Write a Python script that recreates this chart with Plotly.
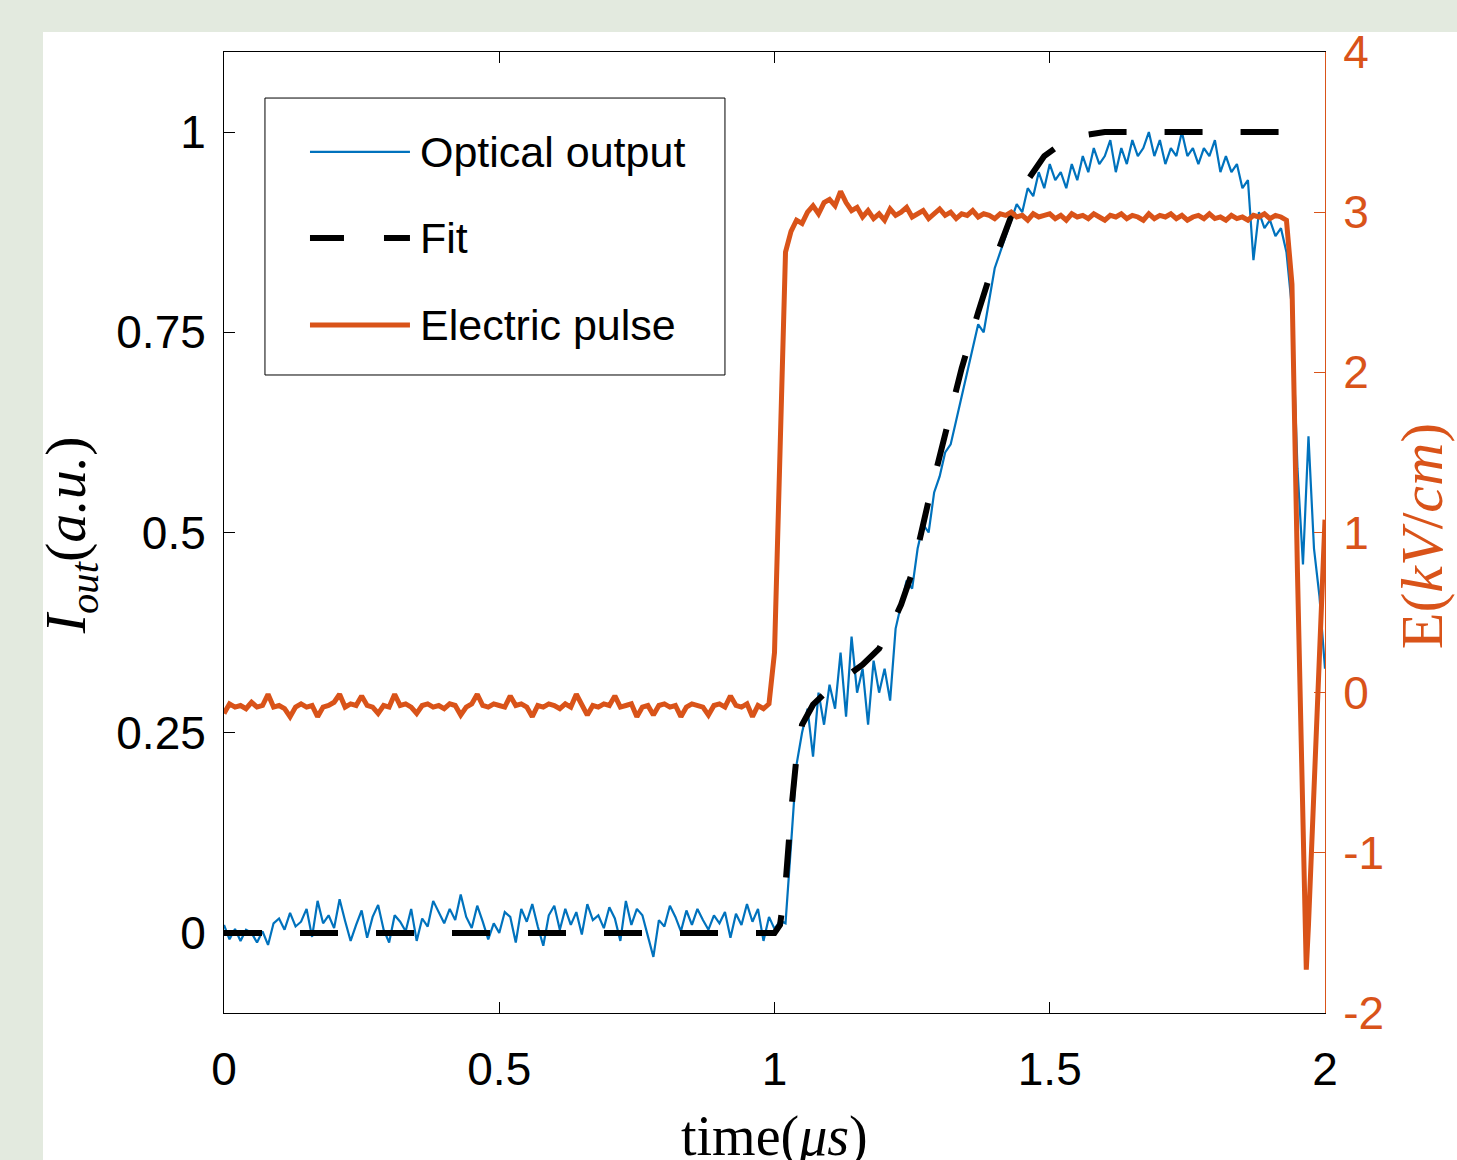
import plotly.graph_objects as go

# time grid (us), 0.01 step
time = [round(i * 0.01, 2) for i in range(201)]

optical = [
    0.010, -0.008, 0.005, -0.010, 0.004, 0.000, -0.012, 0.002, -0.015, 0.012,
    0.018, 0.004, 0.025, 0.008, 0.014, 0.030, -0.005, 0.040, 0.012, 0.022,
    0.006, 0.042, 0.015, -0.010, 0.010, 0.028, -0.006, 0.020, 0.035, 0.004,
    -0.012, 0.022, 0.014, 0.002, 0.030, -0.010, 0.018, 0.008, 0.040, 0.026,
    0.012, 0.030, 0.016, 0.048, 0.020, 0.006, 0.034, 0.014, -0.008, 0.012,
    0.000, 0.026, 0.020, -0.012, 0.030, 0.014, 0.036, 0.008, -0.016, 0.022,
    0.034, 0.004, 0.030, 0.010, 0.026, -0.002, 0.036, 0.016, 0.022, 0.006,
    0.032, 0.018, -0.010, 0.040, 0.010, 0.030, 0.022, -0.004, -0.030, 0.016,
    0.008, 0.034, 0.020, 0.002, 0.028, 0.010, 0.030, 0.016, 0.004, 0.022,
    0.012, 0.026, -0.006, 0.024, 0.010, 0.036, 0.014, 0.030, -0.010, 0.020,
    0.005, 0.015, 0.012, 0.11, 0.21, 0.25, 0.28, 0.22, 0.30, 0.26,
    0.31, 0.28, 0.35, 0.27, 0.37, 0.30, 0.33, 0.26, 0.34, 0.30,
    0.33, 0.29, 0.38, 0.41, 0.44, 0.43, 0.48, 0.51, 0.50, 0.55,
    0.57, 0.60, 0.61, 0.64, 0.67, 0.70, 0.73, 0.76, 0.75, 0.79,
    0.83, 0.85, 0.87, 0.89, 0.91, 0.90, 0.93, 0.92, 0.95, 0.93,
    0.96, 0.94, 0.95, 0.93, 0.96, 0.94, 0.97, 0.95, 0.98, 0.96,
    0.97, 0.99, 0.95, 0.98, 0.96, 0.99, 0.97, 0.98, 1.00, 0.97,
    0.99, 0.96, 0.98, 0.97, 1.00, 0.97, 0.98, 0.96, 0.98, 0.97,
    0.99, 0.95, 0.97, 0.95, 0.96, 0.93, 0.94, 0.84, 0.90, 0.88,
    0.89, 0.87, 0.88, 0.85, 0.78, 0.58, 0.46, 0.62, 0.48, 0.42,
    0.33,
]

fit_time = [0, 1.00, 1.01, 1.02, 1.03, 1.04, 1.05, 1.07, 1.10, 1.13, 1.16, 1.19,
            1.21, 1.23, 1.25, 1.28, 1.31, 1.34, 1.37, 1.40, 1.43, 1.46, 1.49,
            1.52, 1.55, 1.60, 1.98]
fit = [0, 0, 0.01, 0.06, 0.15, 0.22, 0.26, 0.285, 0.305, 0.32, 0.335, 0.355,
       0.38, 0.41, 0.45, 0.54, 0.62, 0.705, 0.775, 0.84, 0.895, 0.94, 0.97,
       0.985, 0.995, 1.0, 1.0]

e_time = time[:194] + [1.94, 1.95, 1.96, 1.966, 1.97, 1.98, 1.99, 2.0]
e_field = [
    -0.13, -0.07, -0.09, -0.08, -0.10, -0.06, -0.09, -0.08, -0.01, -0.09,
    -0.08, -0.10, -0.15, -0.09, -0.07, -0.09, -0.08, -0.15, -0.09, -0.08,
    -0.06, -0.01, -0.09, -0.07, -0.08, -0.02, -0.08, -0.09, -0.13, -0.08,
    -0.09, -0.01, -0.08, -0.07, -0.09, -0.13, -0.08, -0.07, -0.09, -0.08,
    -0.10, -0.07, -0.08, -0.14, -0.09, -0.07, -0.01, -0.08, -0.09, -0.07,
    -0.08, -0.09, -0.02, -0.08, -0.07, -0.09, -0.15, -0.08, -0.09, -0.07,
    -0.08, -0.10, -0.07, -0.09, -0.01, -0.08, -0.14, -0.08, -0.09, -0.07,
    -0.08, -0.02, -0.09, -0.08, -0.07, -0.15, -0.09, -0.08, -0.14, -0.08,
    -0.07, -0.09, -0.08, -0.15, -0.09, -0.07, -0.08, -0.09, -0.14, -0.08,
    -0.07, -0.09, -0.02, -0.08, -0.09, -0.07, -0.15, -0.08, -0.10, -0.07,
    0.25, 1.6, 2.75, 2.88, 2.95, 2.93, 3.00, 3.04, 2.99, 3.06,
    3.08, 3.04, 3.13, 3.06, 3.01, 3.03, 2.97, 3.01, 2.96, 2.99,
    2.95, 3.02, 2.98, 3.00, 3.03, 2.97, 2.99, 3.01, 2.96, 2.99,
    3.02, 2.98, 3.00, 2.96, 2.99, 2.98, 3.01, 2.97, 2.99, 2.98,
    2.96, 2.99, 2.98, 3.00, 2.97, 2.98, 2.95, 2.99, 2.97, 2.98,
    2.99, 2.96, 2.98, 2.95, 2.99, 2.97, 2.98, 2.96, 2.99, 2.97,
    2.95, 2.98, 2.97, 2.99, 2.96, 2.98, 2.97, 2.95, 2.99, 2.96,
    2.98, 2.97, 2.99, 2.96, 2.98, 2.95, 2.97, 2.98, 2.96, 2.99,
    2.96, 2.97, 2.95, 2.98, 2.96, 2.97, 2.95, 2.98, 2.97, 2.99,
    2.96, 2.98, 2.97, 2.95,
    2.55, 0.75, -0.85, -1.73, -1.45, -0.6, 0.25, 1.08,
]

y_ticks = [0, 0.25, 0.5, 0.75, 1]
y_ticktext = ["0", "0.25", "0.5", "0.75", "1"]
y2_ticks = [-2, -1, 0, 1, 2, 3, 4]
y2_ticktext = ["-2", "-1", "0", "1", "2", "3", "4"]
x_ticks = [0, 0.5, 1, 1.5, 2]
x_ticktext = ["0", "0.5", "1", "1.5", "2"]
legend_names = ["Optical output", "Fit", "Electric pulse"]

BLUE = "#0072BD"
ORANGE = "#D95319"
BG = "#e3eadf"
SANS = "Liberation Sans, Arial, sans-serif"
SERIF = "Liberation Serif, Times New Roman, serif"

fig = go.Figure()
fig.add_trace(go.Scatter(x=time, y=optical, mode="lines", name=legend_names[0],
                         line=dict(color=BLUE, width=2.2)))
fig.add_trace(go.Scatter(x=fit_time, y=fit, mode="lines", name=legend_names[1],
                         line=dict(color="black", width=6, dash="38px,38px")))
fig.add_trace(go.Scatter(x=e_time, y=e_field, mode="lines", name=legend_names[2],
                         yaxis="y2", line=dict(color=ORANGE, width=5)))

fig.update_layout(
    width=1457, height=1160,
    margin=dict(l=224, r=132, t=52, b=147),
    paper_bgcolor=BG,
    plot_bgcolor="white",
    showlegend=False,
    font=dict(family=SANS, size=46, color="black"),
    xaxis=dict(range=[0, 2], tickvals=x_ticks, ticktext=x_ticktext,
               showline=True, linecolor="black", linewidth=1, mirror="ticks",
               ticks="inside", ticklen=11, tickcolor="black",
               showgrid=False, zeroline=False, ticklabelstandoff=16),
    yaxis=dict(range=[-0.1, 1.1], tickvals=y_ticks, ticktext=y_ticktext,
               showline=True, linecolor="black", linewidth=1,
               ticks="inside", ticklen=11, tickcolor="black",
               showgrid=False, zeroline=False, ticklabelstandoff=8),
    yaxis2=dict(range=[-2, 4], tickvals=y2_ticks, ticktext=y2_ticktext,
                overlaying="y", side="right",
                showline=True, linecolor=ORANGE, linewidth=1,
                ticks="inside", ticklen=11, tickcolor=ORANGE,
                tickfont=dict(color=ORANGE), showgrid=False, zeroline=False,
                ticklabelstandoff=8),
)

# white figure panel behind the axes
fig.add_shape(type="rect", xref="paper", yref="paper", x0=-0.1644, x1=1.13,
              y0=-0.16, y1=1.0208, fillcolor="white", line=dict(width=0),
              layer="below")

# legend box drawn by hand (long line samples as in the original)
fig.add_shape(type="rect", xref="paper", yref="paper", x0=0.0372, x1=0.455,
              y0=0.6639, y1=0.9521, fillcolor="white",
              line=dict(color="black", width=1))
rows = [0.896, 0.8065, 0.716]
styles = [dict(color=BLUE, width=2.2), dict(color="black", width=6, dash="34px,40px"),
          dict(color=ORANGE, width=5)]
for name, ry, st in zip(legend_names, rows, styles):
    fig.add_shape(type="line", xref="paper", yref="paper", x0=0.0781, x1=0.1689,
                  y0=ry, y1=ry, line=st)
    fig.add_annotation(x=0.176, y=ry, xref="paper", yref="paper", text=name,
                       showarrow=False, xanchor="left", yanchor="middle",
                       font=dict(family=SANS, size=43, color="black"))

# axis titles
fig.add_annotation(x=0.5, y=-0.128, xref="paper", yref="paper",
                   text="time(<i>μs</i>)", showarrow=False,
                   xanchor="center", yanchor="middle",
                   font=dict(family=SERIF, size=56, color="black"))
fig.add_annotation(x=-0.14, y=0.497, xref="paper", yref="paper",
                   text="<i>I</i><sub><i>out</i></sub>(<i>a.u.</i>)", showarrow=False,
                   textangle=-90, xanchor="center", yanchor="middle",
                   font=dict(family=SERIF, size=58, color="black"))
fig.add_annotation(x=1.088, y=0.497, xref="paper", yref="paper",
                   text="E(<i>kV</i>/<i>cm</i>)", showarrow=False,
                   textangle=-90, xanchor="center", yanchor="middle",
                   font=dict(family=SERIF, size=60, color=ORANGE))

fig.write_html(
    "out.html",
    config={"displayModeBar": False},
    post_script="document.body.style.margin='0';"
                "document.body.style.background='" + BG + "';",
)
